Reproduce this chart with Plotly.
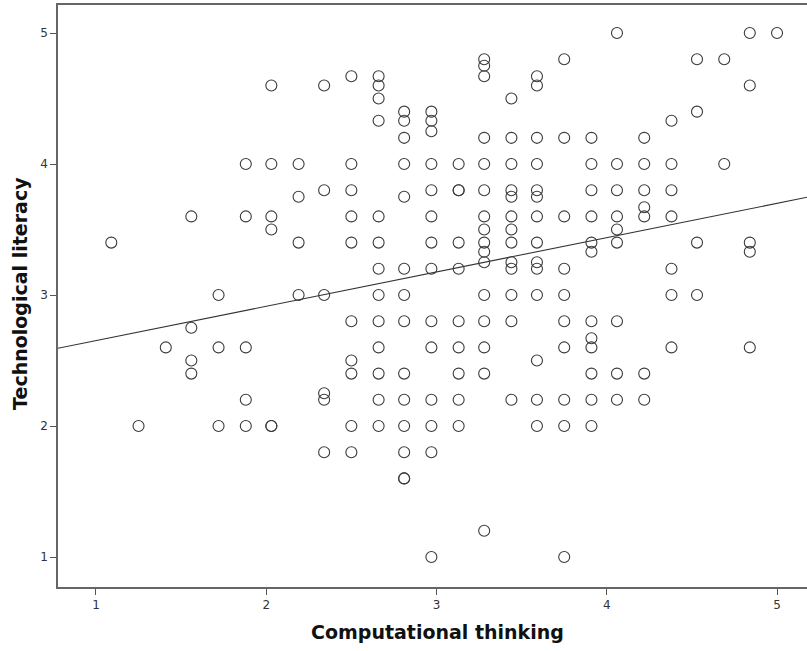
import plotly.graph_objects as go

# Computational thinking columns and the technological literacy values in each
ct_levels = [1.09, 1.25, 1.41, 1.56, 1.72, 1.88, 2.03, 2.19, 2.34, 2.5, 2.66, 2.81, 2.97,
             3.13, 3.28, 3.44, 3.59, 3.75, 3.91, 4.06, 4.22, 4.38, 4.53, 4.69, 4.84, 5.0]
tl_by_level = [
    [3.4],
    [2.0],
    [2.6],
    [3.6, 2.75, 2.5, 2.4],
    [3.0, 2.6, 2.0],
    [4.0, 3.6, 2.6, 2.2, 2.0],
    [4.6, 4.0, 3.6, 3.5, 2.0, 2.0],
    [4.0, 3.75, 3.4, 3.0],
    [4.6, 3.8, 3.0, 2.25, 2.2, 1.8],
    [4.67, 4.0, 3.8, 3.6, 3.4, 2.8, 2.5, 2.4, 2.0, 1.8],
    [4.67, 4.6, 4.5, 4.33, 3.6, 3.4, 3.2, 3.0, 2.8, 2.6, 2.4, 2.2, 2.0],
    [4.4, 4.33, 4.2, 4.0, 3.75, 3.2, 3.0, 2.8, 2.4, 2.2, 2.0, 1.8, 1.6, 1.6],
    [4.4, 4.33, 4.25, 4.0, 3.8, 3.6, 3.4, 3.2, 2.8, 2.6, 2.2, 2.0, 1.8, 1.0],
    [4.0, 3.8, 3.8, 3.4, 3.2, 2.8, 2.6, 2.4, 2.2, 2.0],
    [4.8, 4.75, 4.67, 4.2, 4.0, 3.8, 3.6, 3.5, 3.4, 3.33, 3.25, 3.0, 2.8, 2.6, 2.4, 1.2],
    [4.5, 4.2, 4.0, 3.8, 3.75, 3.6, 3.5, 3.4, 3.25, 3.2, 3.0, 2.8, 2.2],
    [4.67, 4.6, 4.2, 4.0, 3.8, 3.75, 3.6, 3.4, 3.25, 3.2, 3.0, 2.5, 2.2, 2.0],
    [4.8, 4.2, 3.6, 3.2, 3.0, 2.8, 2.6, 2.2, 2.0, 1.0],
    [4.2, 4.0, 3.8, 3.6, 3.4, 3.33, 2.8, 2.67, 2.6, 2.4, 2.2, 2.0],
    [5.0, 4.0, 3.8, 3.6, 3.5, 3.4, 2.8, 2.4, 2.2],
    [4.2, 4.0, 3.8, 3.67, 3.6, 2.4, 2.2],
    [4.33, 4.0, 3.8, 3.6, 3.2, 3.0, 2.6],
    [4.8, 4.4, 3.4, 3.0],
    [4.8, 4.0],
    [5.0, 4.6, 3.4, 3.33, 2.6],
    [5.0],
]

# Fit line
fit_intercept = 2.39
fit_slope = 0.262

tick_vals = [1, 2, 3, 4, 5]
x_title = "Computational thinking"
y_title = "Technological literacy"
x_range = [0.777, 5.176]
y_range = [0.771, 5.214]

ct = []
tl = []
for lvl, vals in zip(ct_levels, tl_by_level):
    for v in vals:
        ct.append(lvl)
        tl.append(v)

line_x = [x_range[0] - 0.5, x_range[1] + 0.5]
line_y = [fit_intercept + fit_slope * v for v in line_x]

fig = go.Figure()
fig.add_trace(go.Scatter(
    x=line_x, y=line_y, mode="lines",
    line=dict(color="#333333", width=1.1),
    hoverinfo="skip", showlegend=False,
))
fig.add_trace(go.Scatter(
    x=ct, y=tl, mode="markers",
    marker=dict(symbol="circle-open", size=11, color="#3a3a3a", line=dict(width=1.1)),
    showlegend=False,
))

axis_font = dict(family="DejaVu Sans", size=12, color="#333333")
title_font = dict(family="DejaVu Sans", size=19, color="#111111")

fig.update_layout(
    width=807, height=651,
    margin=dict(l=58, r=0, t=5, b=64),
    paper_bgcolor="white", plot_bgcolor="white",
    xaxis=dict(
        range=x_range, tickvals=tick_vals, ticks="outside", ticklen=6, tickwidth=1,
        tickcolor="#555555", showline=True, linecolor="#666666", linewidth=1.5,
        mirror=True, showgrid=False, zeroline=False, tickfont=axis_font,
    ),
    yaxis=dict(
        range=y_range, tickvals=tick_vals, ticks="outside", ticklen=6, tickwidth=1,
        tickcolor="#555555", showline=True, linecolor="#666666", linewidth=1.5,
        mirror=False, showgrid=False, zeroline=False, tickfont=axis_font,
    ),
    annotations=[
        dict(text="<b>" + x_title + "</b>", xref="paper", yref="paper",
             x=0.507, y=-0.0773, xanchor="center", yanchor="middle",
             showarrow=False, font=title_font),
        dict(text="<b>" + y_title + "</b>", xref="paper", yref="paper",
             x=-0.051, y=0.505, xanchor="center", yanchor="middle", textangle=-90,
             showarrow=False, font=title_font),
    ],
)

fig.write_html("out.html", config={"displayModeBar": False},
               post_script="document.body.style.margin='0px';")
